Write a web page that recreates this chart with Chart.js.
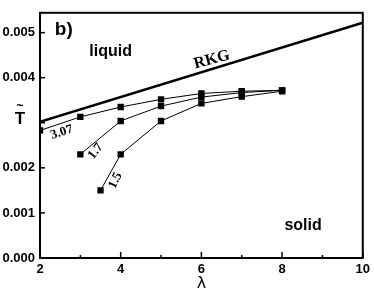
<!DOCTYPE html>
<html><head><meta charset="utf-8">
<script src="https://cdn.jsdelivr.net/npm/chart.js@4.4.1/dist/chart.umd.min.js"></script>
<style>html,body{margin:0;padding:0;background:#fff}#wrap{width:374px;height:292px}</style>
</head><body><div id="wrap"><canvas id="c" width="374" height="292"></canvas></div>
<script>
// Data
const rkgLambda = [2, 10];
const rkgT = [0.00302, 0.00522];
const lambda307 = [2, 3, 4, 5, 6, 7, 8];
const t307 = [0.00283, 0.00313, 0.00335, 0.00352, 0.00365, 0.00370, 0.00372];
const lambda17 = [3, 4, 5, 6, 7, 8];
const t17 = [0.00230, 0.00304, 0.00337, 0.00357, 0.00367, 0.00372];
const lambda15 = [3.5, 4, 5, 6, 7, 8];
const t15 = [0.00150, 0.00230, 0.00304, 0.00343, 0.00358, 0.00370];
const xTickValues = [2, 4, 6, 8, 10];
const yTickValues = [0, 0.001, 0.002, 0.003, 0.004, 0.005];
const yHiddenLabels = [0.003];

// Annotations: [text, lambda, T, rotationDeg, font]
const annotations = [
  ["b)", 2.59, 0.00507, 0, "bold 19px 'Liberation Sans', Arial, sans-serif"],
  ["liquid", 3.75, 0.00459, 0, "bold 16px 'Liberation Sans', Arial, sans-serif"],
  ["RKG", 6.26, 0.00440, -15, "bold 16px 'Liberation Serif', 'Times New Roman', serif"],
  ["solid", 8.52, 0.00072, 0, "bold 16px 'Liberation Sans', Arial, sans-serif"],
  ["3.07", 2.54, 0.00279, -18, "bold 13px 'Liberation Serif', 'Times New Roman', serif"],
  ["1.7", 3.38, 0.00237, -52, "bold 13px 'Liberation Serif', 'Times New Roman', serif"],
  ["1.5", 3.87, 0.00172, -65, "bold 13px 'Liberation Serif', 'Times New Roman', serif"]
];

const toPts = (xs, ys) => xs.map((x, i) => ({x: x, y: ys[i]}));

const lineSeries = (data, w, pts) => ({
  data: data, showLine: true, borderColor: '#000', backgroundColor: '#000',
  borderWidth: w, pointStyle: 'rect', pointRadius: pts ? 4.5 : 0,
  pointBorderWidth: 0, pointHoverRadius: pts ? 4.5 : 0, tension: 0
});

const decor = {
  id: 'decor',
  afterDraw(chart) {
    const ctx = chart.ctx, a = chart.chartArea;
    const xs = chart.scales.x, ys = chart.scales.y;
    ctx.save();
    // frame
    ctx.strokeStyle = '#000'; ctx.lineWidth = 2;
    ctx.strokeRect(a.left, a.top, a.right - a.left, a.bottom - a.top);
    // x ticks (inside)
    ctx.lineWidth = 1.5;
    for (let v = 2; v <= 10; v += 1) {
      const px = xs.getPixelForValue(v);
      const len = (v % 2 === 0) ? 6 : 3;
      ctx.beginPath(); ctx.moveTo(px, a.bottom); ctx.lineTo(px, a.bottom - len); ctx.stroke();
    }
    // y ticks (inside)
    yTickValues.forEach(v => {
      const py = ys.getPixelForValue(v);
      ctx.beginPath(); ctx.moveTo(a.left, py); ctx.lineTo(a.left + 5, py); ctx.stroke();
    });
    // annotations
    ctx.fillStyle = '#000';
    annotations.forEach(([t, lx, ly, rot, font]) => {
      ctx.save();
      ctx.translate(xs.getPixelForValue(lx), ys.getPixelForValue(ly));
      ctx.rotate(rot * Math.PI / 180);
      ctx.font = font; ctx.textAlign = 'center'; ctx.textBaseline = 'middle';
      ctx.fillText(t, 0, 0);
      ctx.restore();
    });
    // axis titles
    ctx.font = "16px 'DejaVu Sans', sans-serif";
    ctx.textAlign = 'center'; ctx.textBaseline = 'middle';
    ctx.fillText('\u03BB', (a.left + a.right) / 2, 284);
    ctx.font = "bold 17px 'Liberation Sans', Arial, sans-serif";
    ctx.fillText('T', 20, 119);
    ctx.font = "bold 12px 'Liberation Sans', Arial, sans-serif";
    ctx.fillText('~', 20, 107);
    ctx.restore();
  }
};

new Chart(document.getElementById('c'), {
  type: 'scatter',
  data: { datasets: [
    lineSeries(toPts(rkgLambda, rkgT), 2.5, false),
    lineSeries(toPts(lambda307, t307), 1, true),
    lineSeries(toPts(lambda17, t17), 1, true),
    lineSeries(toPts(lambda15, t15), 1, true)
  ]},
  options: {
    responsive: false, animation: false, devicePixelRatio: 1,
    layout: { padding: { left: 0, right: 9, top: 8, bottom: 0 } },
    plugins: { legend: { display: false }, tooltip: { enabled: false } },
    scales: {
      x: {
        type: 'linear', min: 2, max: 10,
        grid: { display: false, drawTicks: false }, border: { display: false },
        afterFit(s) { s.height = 34; },
        afterBuildTicks(s) { s.ticks = xTickValues.map(v => ({value: v})); },
        ticks: { color: '#000', padding: 4, maxRotation: 0,
          font: { family: "'Liberation Sans', Arial, sans-serif", size: 13, weight: 'bold' } }
      },
      y: {
        type: 'linear', min: 0, max: 0.00544,
        grid: { display: false, drawTicks: false }, border: { display: false },
        afterFit(s) { s.width = 40; },
        afterBuildTicks(s) { s.ticks = yTickValues.map(v => ({value: v})); },
        ticks: { color: '#000', padding: 5,
          callback: v => yHiddenLabels.some(h => Math.abs(h - v) < 1e-9) ? '' : v.toFixed(3),
          font: { family: "'Liberation Sans', Arial, sans-serif", size: 13, weight: 'bold' } }
      }
    }
  },
  plugins: [decor]
});
</script></body></html>
